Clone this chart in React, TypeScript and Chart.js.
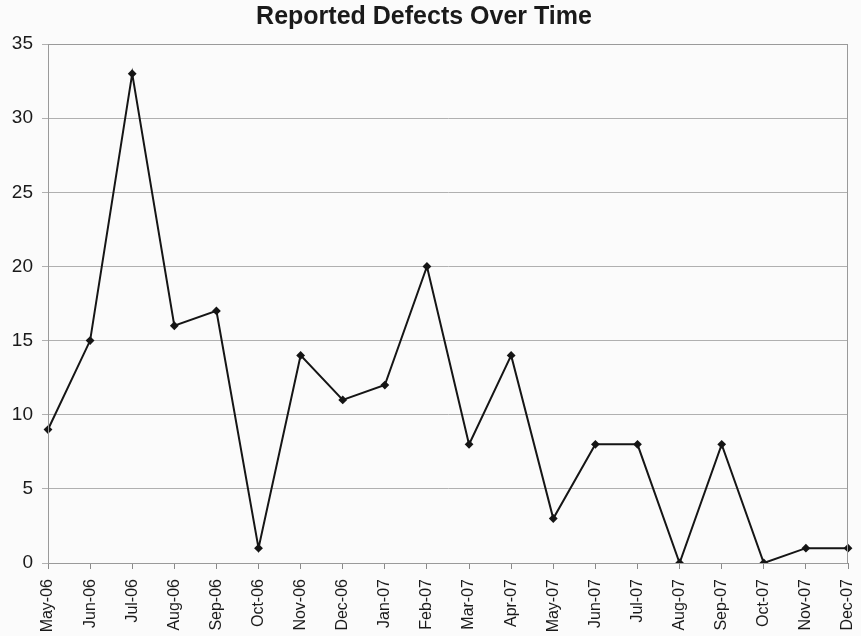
import React, { useEffect, useRef } from "react";
import { Chart, registerables } from "chart.js";

Chart.register(...registerables);

const months = [
  "May-06", "Jun-06", "Jul-06", "Aug-06", "Sep-06", "Oct-06", "Nov-06", "Dec-06",
  "Jan-07", "Feb-07", "Mar-07", "Apr-07", "May-07", "Jun-07", "Jul-07", "Aug-07",
  "Sep-07", "Oct-07", "Nov-07", "Dec-07",
];
const defects = [9, 15, 33, 16, 17, 1, 14, 11, 12, 20, 8, 14, 3, 8, 8, 0, 8, 0, 1, 1];
const titleText = "Reported Defects Over Time";

const frame = {
  id: "frame",
  beforeDraw(chart: any) {
    const { ctx, width, height } = chart;
    ctx.save();
    ctx.fillStyle = "#fbfbfb";
    ctx.fillRect(0, 0, width, height);
    ctx.restore();
  },
  afterDatasetsDraw(chart: any) {
    const { ctx, chartArea: a } = chart;
    ctx.save();
    ctx.strokeStyle = "#9a9a9a";
    ctx.lineWidth = 1;
    ctx.strokeRect(a.left + 0.5, a.top + 0.5, a.right - a.left - 1, a.bottom - a.top);
    ctx.restore();
  },
};

export default function App() {
  const ref = useRef<HTMLCanvasElement | null>(null);
  useEffect(() => {
    if (!ref.current) return;
    const chart = new Chart(ref.current, {
      type: "line",
      data: {
        labels: months,
        datasets: [
          {
            data: defects,
            borderColor: "#151515",
            backgroundColor: "#151515",
            borderWidth: 2,
            pointStyle: "rectRot",
            pointRadius: 3,
            tension: 0,
          },
        ],
      },
      options: {
        animation: false,
        responsive: true,
        maintainAspectRatio: false,
        layout: { padding: { left: 0, right: 13, top: 0, bottom: 0 } },
        plugins: {
          legend: { display: false },
          tooltip: { enabled: false },
          title: {
            display: true,
            text: titleText,
            color: "#1a1a1a",
            font: { family: "Liberation Sans, Arial, sans-serif", size: 25, weight: "bold", lineHeight: 1.2 },
            padding: { top: 2, bottom: 12 },
          },
        },
        scales: {
          x: {
            offset: false,
            grid: { drawOnChartArea: false, drawTicks: true, tickLength: 6, color: "#8a8a8a" },
            border: { color: "#8a8a8a" },
            ticks: {
              color: "#1a1a1a",
              font: { family: "Liberation Sans, Arial, sans-serif", size: 16 },
              minRotation: 90,
              maxRotation: 90,
              autoSkip: false,
              padding: 10,
            },
            afterFit(scale: any) {
              scale.height = 73;
              scale.paddingLeft = 0;
              scale.paddingRight = 0;
            },
          },
          y: {
            min: 0,
            max: 35,
            grid: { color: "#b0b0b0", tickLength: 6 },
            border: { color: "#8a8a8a" },
            ticks: {
              stepSize: 5,
              color: "#1a1a1a",
              font: { family: "Liberation Sans, Arial, sans-serif", size: 19 },
              padding: 9,
            },
            afterFit(scale: any) {
              scale.width = 48;
              scale.paddingTop = 0;
              scale.paddingBottom = 0;
            },
          },
        },
      },
      plugins: [frame],
    });
    return () => chart.destroy();
  }, []);
  return (
    <div style={{ position: "fixed", left: 0, top: 0, width: 861, height: 636 }}>
      <canvas ref={ref} />
    </div>
  );
}
